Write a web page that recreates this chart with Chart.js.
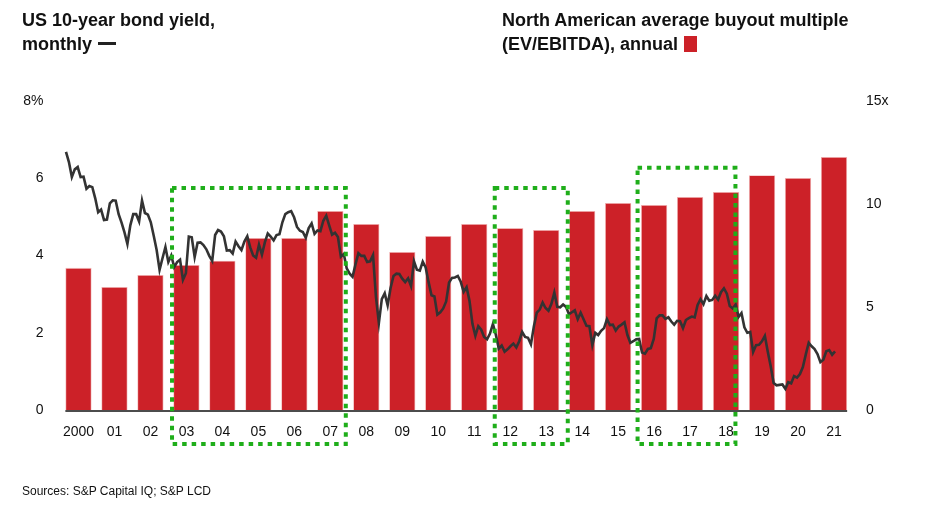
<!DOCTYPE html>
<html>
<head>
<meta charset="utf-8">
<script src="https://cdn.jsdelivr.net/npm/chart.js@4.4.1/dist/chart.umd.min.js"></script>
<style>
  body { margin: 0; background: #fff; font-family: "Liberation Sans", Arial, sans-serif; color: #111; }
  #wrap { position: relative; width: 930px; height: 513px; overflow: hidden; }
  #chart { position: absolute; left: 0; top: 0; }
  .ttl { position: absolute; top: 8px; font-weight: bold; font-size: 18px; line-height: 24px; white-space: nowrap; }
  .dash { display: inline-block; width: 18px; height: 3px; background: #222; vertical-align: 5px; margin-left: 6px; }
  .sq { display: inline-block; width: 13px; height: 16px; background: #cc2128; vertical-align: -2px; margin-left: 6px; }
  #src { position: absolute; left: 22px; top: 484px; font-size: 12px; }
</style>
</head>
<body>
<div id="wrap">
  <canvas id="chart" width="930" height="513"></canvas>
  <div class="ttl" style="left:22px">US 10-year bond yield,<br>monthly<span class="dash"></span></div>
  <div class="ttl" style="left:502px">North American average buyout multiple<br>(EV/EBITDA), annual<span class="sq"></span></div>
  <div id="src">Sources: S&amp;P Capital IQ; S&amp;P LCD</div>
</div>
<script>
// annual buyout multiple (x), right axis
const years = ["2000", "01", "02", "03", "04", "05", "06", "07", "08", "09", "10",
  "11", "12", "13", "14", "15", "16", "17", "18", "19", "20", "21"];
const multiples = [6.9, 5.97, 6.55, 7.04, 7.25, 8.35, 8.35, 9.66, 9.03, 7.67, 8.45,
  9.03, 8.83, 8.74, 9.66, 10.05, 9.95, 10.34, 10.58, 11.4, 11.26, 12.28];

// US 10-year yield, month end, Jan 2000 .. Dec 2021 (%), left axis
const monthlyYield = [
  6.68, 6.42, 6.03, 6.23, 6.29, 6.03, 6.04, 5.73, 5.80, 5.77, 5.48, 5.12, // 2000
  5.19, 4.92, 4.93, 5.35, 5.43, 5.42, 5.07, 4.85, 4.60, 4.30, 4.78, 5.07, // 2001
  5.07, 4.88, 5.42, 5.10, 5.06, 4.86, 4.51, 4.14, 3.63, 3.93, 4.22, 3.83, // 2002
  4.00, 3.70, 3.83, 3.89, 3.37, 3.54, 4.49, 4.47, 3.96, 4.33, 4.34, 4.27, // 2003
  4.16, 3.99, 3.86, 4.53, 4.66, 4.62, 4.50, 4.13, 4.14, 4.05, 4.36, 4.24, // 2004
  4.14, 4.36, 4.50, 4.21, 4.00, 3.94, 4.28, 4.02, 4.34, 4.57, 4.49, 4.39, // 2005
  4.53, 4.55, 4.86, 5.07, 5.12, 5.15, 4.99, 4.74, 4.64, 4.61, 4.46, 4.71, // 2006
  4.83, 4.56, 4.65, 4.63, 4.90, 5.03, 4.78, 4.54, 4.59, 4.48, 3.97, 4.04, // 2007
  3.67, 3.53, 3.45, 3.77, 4.06, 3.99, 3.99, 3.83, 3.85, 4.01, 2.93, 2.25, // 2008
  2.87, 3.02, 2.71, 3.16, 3.47, 3.53, 3.52, 3.40, 3.31, 3.41, 3.21, 3.85, // 2009
  3.63, 3.61, 3.84, 3.69, 3.31, 2.97, 2.94, 2.47, 2.53, 2.63, 2.81, 3.30, // 2010
  3.42, 3.43, 3.47, 3.32, 3.06, 3.18, 2.82, 2.23, 1.92, 2.17, 2.08, 1.89, // 2011
  1.83, 1.98, 2.23, 1.95, 1.59, 1.67, 1.51, 1.57, 1.65, 1.72, 1.62, 1.78, // 2012
  2.02, 1.89, 1.87, 1.70, 2.16, 2.52, 2.60, 2.78, 2.64, 2.57, 2.75, 3.04, // 2013
  2.67, 2.66, 2.73, 2.67, 2.48, 2.53, 2.58, 2.35, 2.52, 2.35, 2.18, 2.17, // 2014
  1.68, 2.00, 1.94, 2.05, 2.12, 2.35, 2.20, 2.21, 2.06, 2.16, 2.21, 2.27, // 2015
  1.94, 1.74, 1.78, 1.83, 1.84, 1.49, 1.46, 1.58, 1.60, 1.84, 2.37, 2.45, // 2016
  2.45, 2.36, 2.40, 2.29, 2.21, 2.31, 2.30, 2.12, 2.33, 2.38, 2.42, 2.40, // 2017
  2.72, 2.87, 2.74, 2.95, 2.83, 2.85, 2.96, 2.86, 3.05, 3.15, 3.01, 2.69, // 2018
  2.63, 2.73, 2.41, 2.51, 2.14, 2.00, 2.02, 1.50, 1.68, 1.69, 1.78, 1.92, // 2019
  1.51, 1.13, 0.70, 0.64, 0.65, 0.66, 0.55, 0.72, 0.69, 0.88, 0.84, 0.93, // 2020
  1.11, 1.44, 1.74, 1.65, 1.58, 1.45, 1.24, 1.30, 1.52, 1.55, 1.43, 1.52  // 2021
];

// green dotted boxes: category span (fractional index) and top in yield units
const highlightFrom = [2.6, 11.57, 15.54];
const highlightTo = [7.43, 13.6, 18.26];
const highlightTop = [5.75, 5.75, 6.27];

const tickFont = { family: "'Liberation Sans', Arial, sans-serif", size: 14 };

const decor = {
  id: "decor",
  afterDatasetsDraw(chart) {
    const ctx = chart.ctx;
    const area = chart.chartArea;
    const bars = chart.getDatasetMeta(1).data;
    const first = bars[0], last = bars[bars.length - 1];
    ctx.save();
    // baseline under the bars
    ctx.strokeStyle = "#111";
    ctx.lineWidth = 1.5;
    ctx.beginPath();
    ctx.moveTo(first.x - first.width / 2, area.bottom + 1);
    ctx.lineTo(last.x + last.width / 2, area.bottom + 1);
    ctx.stroke();
    // dotted boxes
    const xs = chart.scales.x, ys = chart.scales.y;
    ctx.strokeStyle = "#1fae1a";
    ctx.lineWidth = 4;
    ctx.setLineDash([4.5, 5]);
    for (let i = 0; i < highlightFrom.length; i++) {
      const l = xs.getPixelForValue(highlightFrom[i]);
      const r = xs.getPixelForValue(highlightTo[i]);
      const t = ys.getPixelForValue(highlightTop[i]);
      const b = area.bottom + 34;
      ctx.strokeRect(l, t, r - l, b - t);
    }
    ctx.restore();
  }
};

new Chart("chart", {
  type: "bar",
  data: {
    labels: years,
    datasets: [
      {
        type: "line",
        label: "US 10-year bond yield",
        data: monthlyYield.map((v, k) => ({ x: k, y: v })),
        xAxisID: "x2",
        yAxisID: "y",
        borderColor: "#333",
        borderWidth: 2.6,
        pointRadius: 0,
        tension: 0,
        order: 0,
      },
      {
        type: "bar",
        label: "Buyout multiple",
        data: multiples,
        xAxisID: "x",
        yAxisID: "y1",
        backgroundColor: "#cc2128",
        borderColor: "rgba(235,150,150,0.7)",
        borderWidth: 0.8,
        grouped: false,
        barPercentage: 0.73,
        categoryPercentage: 1,
        order: 1,
      },
    ],
  },
  options: {
    responsive: false,
    animation: false,
    layout: { padding: { top: 101, left: 0, right: 0, bottom: 0 } },
    plugins: { legend: { display: false }, tooltip: { enabled: false } },
    scales: {
      x: {
        type: "category",
        offset: true,
        grid: { display: false, drawTicks: false },
        border: { display: false },
        ticks: { color: "#111", font: tickFont, padding: 14, maxRotation: 0, autoSkip: false },
        afterFit: (s) => { s.height = 103; },
      },
      x2: {
        type: "linear",
        display: false,
        offset: false,
        grid: { offset: false },
        min: -1.88,
        max: 268.8,
      },
      y: {
        position: "left",
        min: 0,
        max: 8,
        grid: { display: false, drawTicks: false },
        border: { display: false },
        ticks: {
          stepSize: 2,
          color: "#111",
          font: tickFont,
          padding: 17,
          callback: (v) => (v === 8 ? "8%" : v),
        },
        afterFit: (s) => { s.width = 60.5; },
      },
      y1: {
        position: "right",
        min: 0,
        max: 15,
        grid: { display: false, drawTicks: false },
        border: { display: false },
        ticks: {
          stepSize: 5,
          color: "#111",
          font: tickFont,
          padding: 14,
          callback: (v) => (v === 15 ? "15x" : v),
        },
        afterFit: (s) => { s.width = 78; },
      },
    },
  },
  plugins: [decor],
});
</script>
</body>
</html>
